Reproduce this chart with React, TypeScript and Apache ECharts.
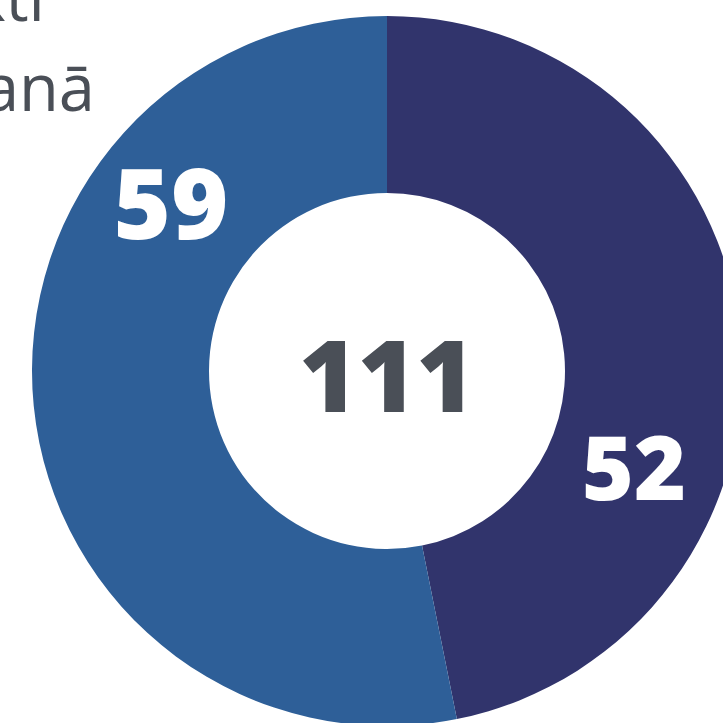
import React, { useEffect, useRef } from "react";
import * as echarts from "echarts";

const categories = ["A", "B"];
const values = [52, 59];
const colors = ["#31346c", "#2e5f98"];
const titleLines = ["ktī", "anā"];

export default function App() {
  const ref = useRef<HTMLDivElement>(null);
  useEffect(() => {
    const chart = echarts.init(ref.current!, undefined, { renderer: "svg" });
    const total = values.reduce((a, b) => a + b, 0);
    chart.setOption({
      animation: false,
      series: [
        {
          type: "pie",
          center: [387, 371],
          radius: [178, 355],
          startAngle: 90,
          clockwise: true,
          label: { show: false },
          labelLine: { show: false },
          silent: true,
          data: categories.map((c, i) => ({
            name: c,
            value: values[i],
            itemStyle: { color: colors[i] },
          })),
        },
      ],
      graphic: [
        {
          type: "text",
          x: 387,
          y: 373,
          z: 100,
          style: {
            text: String(total),
            font: "800 100px 'Open Sans'",
            fill: "#4a4f57",
            align: "center",
            verticalAlign: "middle",
          },
        },
        {
          type: "text",
          x: 171,
          y: 201,
          z: 100,
          style: {
            text: String(values[1]),
            font: "800 98px 'Open Sans'",
            fill: "#ffffff",
            align: "center",
            verticalAlign: "middle",
          },
        },
        {
          type: "text",
          x: 634,
          y: 465,
          z: 100,
          style: {
            text: String(values[0]),
            font: "800 89px 'Open Sans'",
            fill: "#ffffff",
            align: "center",
            verticalAlign: "middle",
          },
        },
        {
          type: "text",
          x: 45,
          y: 28,
          z: 100,
          style: {
            text: titleLines[0],
            font: "65px 'Open Sans'",
            fill: "#4a4f57",
            align: "right",
            verticalAlign: "bottom",
          },
        },
        {
          type: "text",
          x: 95,
          y: 118,
          z: 100,
          style: {
            text: titleLines[1],
            font: "65px 'Open Sans'",
            fill: "#4a4f57",
            align: "right",
            verticalAlign: "bottom",
          },
        },
      ],
    });
    return () => chart.dispose();
  }, []);
  return (
    <div
      ref={ref}
      style={{ position: "absolute", left: 0, top: 0, width: 723, height: 723 }}
    />
  );
}
